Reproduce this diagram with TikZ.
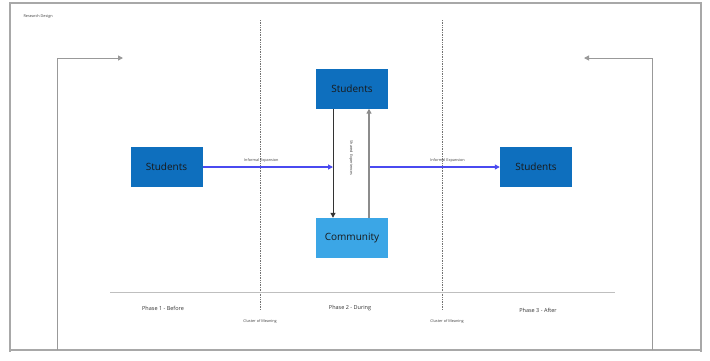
\documentclass[tikz,border=0pt]{standalone}
\usepackage{fontspec}
\setmainfont{Open Sans}
\usetikzlibrary{arrows.meta}
\definecolor{darkbox}{HTML}{0E6FBE}
\definecolor{lightbox}{HTML}{3BA6E6}
\definecolor{linkblue}{HTML}{4A4AF0}
\definecolor{framegray}{HTML}{A8A8A8}
\tikzset{
  box/.style={draw=none, minimum width=72pt, minimum height=40pt, inner sep=0pt, font=\fontsize{10}{11}\selectfont},
  darkb/.style={box, fill=darkbox, text=black!90},
  lightb/.style={box, fill=lightbox, text=black!90},
  tiny/.style={font=\fontsize{3.8}{4.5}\selectfont, text=black!75},
  small/.style={font=\fontsize{5.5}{6.5}\selectfont, text=black!80},
  divider/.style={densely dotted, draw=black!55, line width=0.7pt},
  tip/.style={-{Triangle[length=5pt,width=5pt]}},
}
\begin{document}
\begin{tikzpicture}[x=1pt,y=-1pt]
\useasboundingbox (0,0) rectangle (710,360);
\fill[white] (0,0) rectangle (710,360);
% frame
\draw[framegray, line width=1.5pt] (9,3) -- (702,3);
\draw[framegray, line width=2pt] (10,3) -- (10,352);
\draw[framegray, line width=2.5pt] (701,3) -- (701,352);
\draw[framegray, line width=1.5pt] (10,350) -- (701,350);
\node[tiny, anchor=west] (title) at (20,17) {Research Design};

% dividers
\coordinate (d1t) at (260,20); \coordinate (d1b) at (260,310);
\coordinate (d2t) at (442,20); \coordinate (d2b) at (442,310);
\draw[divider] (d1t) -- (d1b);
\draw[divider] (d2t) -- (d2b);

% baseline
\coordinate (bl) at (110,292); \coordinate (br) at (615,292);
\draw[black!25, line width=0.8pt] (bl) -- (br);

% nodes
\node[darkb] (s1) at (166.5,167) {Students};
\node[darkb] (s2) at (352,88.5) {Students};
\node[lightb] (c) at (352,238) {Community};
\node[darkb] (s3) at (536,167) {Students};

% horizontal links
\coordinate (m1) at (333,167);
\coordinate (m2) at (369,167);
\draw[linkblue, line width=1.1pt, tip] (s1.east) -- (m1) node[tiny, pos=0.45, above=1pt] {Informal Expansion};
\draw[linkblue, line width=1.1pt, tip] (m2) -- (s3.west) node[tiny, pos=0.6, above=1pt] {Informal Expansion};

% vertical links
\draw[black!80, line width=1pt, tip] (s2.south -| m1) -- (c.north -| m1);
\draw[black!45, line width=1.3pt, tip] (c.north -| m2) -- (s2.south -| m2);
\node[tiny, rotate=-90] (sh) at (351,158) {Shared Experiences};

% loops
\coordinate (lb) at (57,350); \coordinate (lc) at (57,58); \coordinate (le) at (123,58);
\coordinate (rb) at (652,350); \coordinate (rc) at (652,58); \coordinate (re) at (584,58);
\draw[black!40, line width=1pt, tip] (lb) -- (lc) -- (le);
\draw[black!40, line width=1pt, tip] (rb) -- (rc) -- (re);

% phase labels
\node[small] (p1) at (163,308) {Phase 1 - Before};
\node[small] (p2) at (350,308) {Phase 2 - During};
\node[small] (p3) at (538,310) {Phase 3 - After};
\node[tiny] (cm1) at (260,321) {Cluster of Meaning};
\node[tiny] (cm2) at (447,321) {Cluster of Meaning};
\end{tikzpicture}
\end{document}
